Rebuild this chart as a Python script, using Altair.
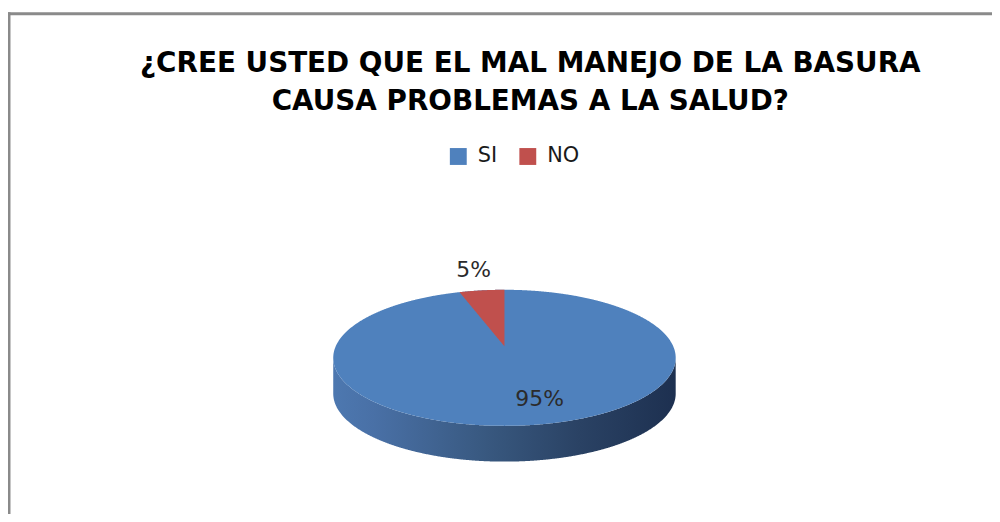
import numpy as np
import pandas as pd
import altair as alt

# ---- data ----
TITLE_LINES = ["¿CREE USTED QUE EL MAL MANEJO DE LA BASURA", "CAUSA PROBLEMAS A LA SALUD?"]
categories = ["SI", "NO"]
values = [95, 5]
colors = ["#4F81BD", "#C0504D"]

# ---- geometry / style constants for the tilted (3-D look) pie ----
K = 0.168            # perspective factor
PX_X = 170.0         # pixels per unit, horizontal radius
PX_Y = 66.6          # pixels per unit, vertical radius
DEPTH = 36 / PX_Y    # thickness of the pie, in y units
W, H = 990, 500      # plot area
CX, CY = 499, 335    # pie centre inside the plot area (px)


def proj(u, v):
    d = 1 + K * v
    return u / d, v / d


# outline of the top face
thR = np.arccos(-K)
tb = np.linspace(-thR, thR, 3000)
bx, by = proj(np.sin(tb), np.cos(tb))
tf = np.linspace(thR, 2 * np.pi - thR, 3000)
fx, fy = proj(np.sin(tf), np.cos(tf))
fx, fy = fx[::-1], fy[::-1]
xmax = bx[-1]
xs = -xmax * np.cos(np.linspace(0, np.pi, 800))
y_back = np.interp(xs, bx, by)
y_front = np.interp(xs, fx, fy)

face_df = pd.DataFrame({"x": xs, "y": y_back, "y2": y_front, "cat": categories[0]})
side_df = pd.DataFrame({"x": xs, "y": y_front, "y2": y_front - DEPTH})

# slice angles (clockwise from 12 o'clock)
total = float(sum(values))
fr = np.array(values) / total
ends = np.cumsum(fr) * 2 * np.pi
starts = ends - fr * 2 * np.pi

# wedge for the second slice (drawn over the full face)
a0, a1 = starts[1], ends[1]
px, py = proj(np.sin(a0), np.cos(a0))
qx, qy = proj(np.sin(a1), np.cos(a1))
wx = np.linspace(min(px, qx), max(px, qx), 200)
w_top = np.interp(wx, bx, by)
left_pt = (px, py) if px < qx else (qx, qy)
right_pt = (qx, qy) if px < qx else (px, py)
w_bot = np.where(
    wx < 0,
    left_pt[1] * wx / left_pt[0] if left_pt[0] != 0 else 0,
    (right_pt[1] * wx / right_pt[0]) if abs(right_pt[0]) > 1e-9 else 0,
)
wedge_df = pd.DataFrame({"x": wx, "y": w_top, "y2": w_bot, "cat": categories[1]})

# labels
mids = (starts + ends) / 2
lab_rows = []
for c, v, f, m in zip(categories, values, fr, mids):
    r = 1.45 if f < 0.1 else 0.71
    lx, ly = proj(r * np.sin(m), r * np.cos(m))
    lab_rows.append({"x": lx, "y": ly, "text": f"{v}%", "inside": f >= 0.1})
lab_df = pd.DataFrame(lab_rows)

xscale = alt.Scale(domain=[-CX / PX_X, (W - CX) / PX_X], nice=False, zero=False)
yscale = alt.Scale(domain=[-(H - CY) / PX_Y, CY / PX_Y], nice=False, zero=False)
X = alt.X("x:Q", scale=xscale, axis=None)
Y = alt.Y("y:Q", scale=yscale, axis=None)

color_enc = alt.Color(
    "cat:N",
    scale=alt.Scale(domain=categories, range=colors),
    legend=alt.Legend(
        orient="none", legendX=442, legendY=133, direction="horizontal",
        title=None, symbolType="square", symbolSize=289, symbolStrokeWidth=0,
        symbolOpacity=1, labelFont="DejaVu Sans", labelFontSize=21,
        labelColor="#1a1a1a", labelOffset=9, columnPadding=20, padding=0,
    ),
)

side_grad = alt.Gradient(
    gradient="linear",
    stops=[
        alt.GradientStop(color="#4d78b0", offset=0),
        alt.GradientStop(color="#4970a6", offset=0.12),
        alt.GradientStop(color="#38587f", offset=0.45),
        alt.GradientStop(color="#2a4264", offset=0.72),
        alt.GradientStop(color="#1d3050", offset=1),
    ],
    x1=0, x2=1, y1=0, y2=0,
)

one = pd.DataFrame({"d": [0]})
top_border = alt.Chart(one).mark_rule(color="#8a8a8a", strokeWidth=3).encode(
    x=alt.value(-1.5), x2=alt.value(W), y=alt.value(0))
left_border = alt.Chart(one).mark_rule(color="#8a8a8a", strokeWidth=3).encode(
    x=alt.value(0), y=alt.value(-1.5), y2=alt.value(H + 10))

side = alt.Chart(side_df).mark_area(fill=side_grad, strokeWidth=0).encode(x=X, y=Y, y2="y2:Q")
face = alt.Chart(face_df).mark_area(opacity=1, strokeWidth=0).encode(x=X, y=Y, y2="y2:Q", color=color_enc)
wedge = alt.Chart(wedge_df).mark_area(opacity=1, strokeWidth=0).encode(x=X, y=Y, y2="y2:Q", color=color_enc)

lab_out = alt.Chart(lab_df[~lab_df["inside"]]).mark_text(
    font="DejaVu Sans", fontSize=22, color="#2b2b2b", baseline="middle", align="center"
).encode(x=X, y=Y, text="text:N")
lab_in = alt.Chart(lab_df[lab_df["inside"]]).mark_text(
    font="DejaVu Sans", fontSize=22, color="#2b2b2b", baseline="middle", align="center", dx=14
).encode(x=X, y=Y, text="text:N")

chart = alt.layer(top_border, left_border, side, face, wedge, lab_out, lab_in).properties(
    width=W,
    height=H,
    title=alt.TitleParams(
        text=TITLE_LINES, font="DejaVu Sans", fontSize=28, fontWeight="bold",
        color="#000000", anchor="middle", frame="group", offset=-128,
        baseline="alphabetic", lineHeight=38, dx=30,
    ),
    padding={"left": 1, "top": 4, "right": 0, "bottom": 2},
    autosize=alt.AutoSizeParams(type="none"),
).configure_view(stroke=None)

chart.save("out.html", embed_options={"renderer": "svg", "actions": False})
